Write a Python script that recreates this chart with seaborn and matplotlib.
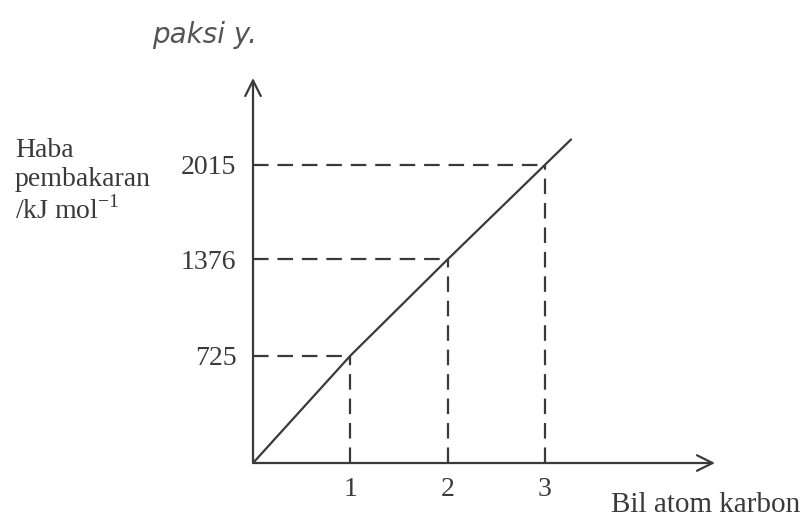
import numpy as np
import pandas as pd
import seaborn as sns
import matplotlib.pyplot as plt

# bil atom karbon vs haba pembakaran
carbon = [0, 1, 2, 3]
heat = [0, 725, 1376, 2015]
tick_x = [1, 2, 3]
tick_y = [725, 1376, 2015]

sns.set_theme(style="white")
plt.rcParams["font.family"] = ["Liberation Serif", "DejaVu Serif"]
plt.rcParams["mathtext.fontset"] = "custom"
plt.rcParams["mathtext.rm"] = "Liberation Serif"

ink = "#3a3a3a"

# extend the line a little past the last point, using the last slope
slope = (heat[-1] - heat[-2]) / (carbon[-1] - carbon[-2])
ext_x = carbon[-1] + 0.27
df = pd.DataFrame({"carbon": carbon + [ext_x],
                   "heat": heat + [heat[-1] + slope * (ext_x - carbon[-1])]})

fig = plt.figure(figsize=(8.04, 5.20), dpi=100)
ax = fig.add_axes([0.3147, 0.1096, 0.5746, 0.7404])

sns.lineplot(data=df, x="carbon", y="heat", color=ink, lw=1.6, ax=ax)

for cx, hy in zip(tick_x, tick_y):
    ax.plot([0, cx], [hy, hy], color=ink, lw=1.6, ls=(0, (7, 4)))
    ax.plot([cx, cx], [0, hy], color=ink, lw=1.6, ls=(0, (7, 4)))

ax.set_xlim(0, 4.75)
ax.set_ylim(0, 2603)
for s in ax.spines.values():
    s.set_visible(False)

# axes drawn as arrows
ax.annotate("", xy=(0, 1), xytext=(0, 0), xycoords="axes fraction",
            arrowprops=dict(arrowstyle="->", color=ink, lw=1.6,
                            mutation_scale=28, shrinkA=0, shrinkB=0))
ax.annotate("", xy=(1, 0), xytext=(0, 0), xycoords="axes fraction",
            arrowprops=dict(arrowstyle="->", color=ink, lw=1.6,
                            mutation_scale=28, shrinkA=0, shrinkB=0))

ax.set_xticks(tick_x)
ax.set_yticks(tick_y)
ax.set_xticklabels([str(v) for v in tick_x])
ax.set_yticklabels([str(v) for v in tick_y])
ax.tick_params(axis="both", length=0, labelsize=20, colors=ink)
ax.tick_params(axis="x", pad=10)
ax.tick_params(axis="y", pad=12)
ax.set_xlabel("")
ax.set_ylabel("")

fig.text(15 / 804, 1 - 138 / 520, "Haba\npembakaran\n/kJ mol$^{\\mathrm{-1}}$",
         ha="left", va="top", fontsize=20, color=ink, linespacing=1.2)
fig.text(800 / 804, 1 - 505 / 520, "Bil atom karbon",
         ha="right", va="center", fontsize=21, color=ink)
fig.text(152 / 804, 1 - 35 / 520, "paksi y.", ha="left", va="center",
         fontsize=20, color="#555555", style="italic",
         family=["DejaVu Sans"])

fig.savefig("out.png", dpi=100)
